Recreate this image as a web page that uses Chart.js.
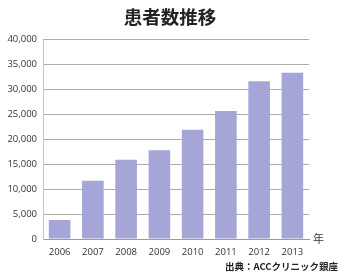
<!DOCTYPE html>
<html lang="ja">
<head>
<meta charset="utf-8">
<script src="https://cdn.jsdelivr.net/npm/chart.js@4/dist/chart.umd.min.js"></script>
<style>
    html, body { margin: 0; padding: 0; background: #ffffff; }
    #wrap { position: relative; width: 350px; height: 276px; overflow: hidden; }
    #title {
        position: absolute; left: 0; width: 340px; top: 3px;
        text-align: center; font: bold 18.5px "Noto Sans CJK JP", sans-serif; color: #222;
    }
    #unit {
        position: absolute; left: 313px; top: 230px;
        font: 11px "Noto Sans CJK JP", sans-serif; color: #333;
    }
    #source {
        position: absolute; right: 12px; top: 259px;
        font: bold 9.5px "Noto Sans CJK JP", sans-serif; color: #222;
    }
</style>
</head>
<body>
<div id="wrap">
    <canvas id="chart" width="350" height="276"></canvas>
    <div id="title">患者数推移</div>
    <div id="unit">年</div>
    <div id="source">出典：ACCクリニック銀座</div>
</div>
<script>
// values
const years = ['2006', '2007', '2008', '2009', '2010', '2011', '2012', '2013'];
const patients = [3800, 11650, 15850, 17750, 21850, 25600, 31550, 33250];
const yMax = 40000;
const yStep = 5000;

const ctx = document.getElementById('chart').getContext('2d');
new Chart(ctx, {
    type: 'bar',
    data: {
        labels: years,
        datasets: [{
            label: '患者数',
            data: patients,
            backgroundColor: '#a5a5d7',
            borderWidth: 0,
            categoryPercentage: 1,
            barPercentage: 0.65
        }]
    },
    options: {
        responsive: false,
        animation: false,
        layout: { padding: { top: 39, right: 41, bottom: 0, left: 0 } },
        plugins: {
            legend: { display: false },
            tooltip: { enabled: false }
        },
        scales: {
            x: {
                grid: { display: false },
                border: { display: true, color: '#9a9a9a', width: 1 },
                ticks: {
                    color: '#333',
                    font: { family: 'Open Sans', size: 9.5 },
                    padding: 0,
                    maxRotation: 0
                },
                afterFit: (scale) => { scale.height = 37; }
            },
            y: {
                min: 0,
                max: yMax,
                grid: { color: '#ababab', lineWidth: 1, drawTicks: false },
                border: { display: true, color: '#c4c4c4', width: 1 },
                ticks: {
                    stepSize: yStep,
                    color: '#333',
                    font: { family: 'Open Sans', size: 9.5 },
                    padding: 6,
                    callback: (v) => v.toLocaleString('en-US')
                },
                afterFit: (scale) => { scale.width = 43; }
            }
        }
    }
});
</script>
</body>
</html>
